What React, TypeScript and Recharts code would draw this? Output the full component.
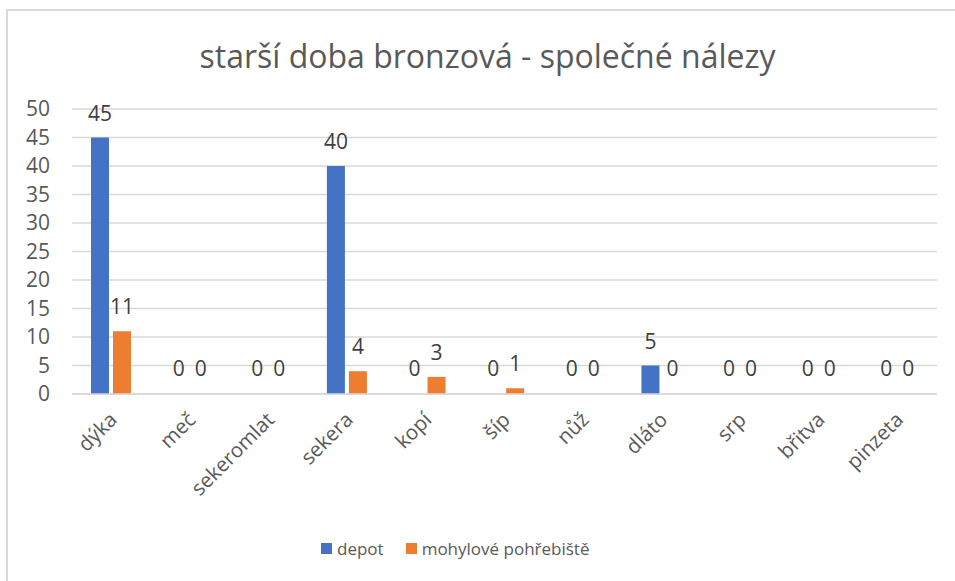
import { Bar, BarChart, CartesianGrid, LabelList, Legend, Rectangle, XAxis, YAxis } from "recharts";

const categories = ["dýka", "meč", "sekeromlat", "sekera", "kopí", "šíp", "nůž", "dláto", "srp", "břitva", "pinzeta"];
const depot = [45, 0, 0, 40, 0, 0, 0, 5, 0, 0, 0];
const burials = [11, 0, 0, 4, 3, 1, 0, 0, 0, 0, 0];
const yTicks = [0, 5, 10, 15, 20, 25, 30, 35, 40, 45, 50];

const data = categories.map((name, i) => ({ name, depot: depot[i], burials: burials[i] }));

const FONT = "'Open Sans', sans-serif";
const TEXT = "#595959";

function CategoryTick({ x, y, payload }: any) {
  const px = x + 7;
  const py = y + 27;
  return (
    <text
      x={px}
      y={py}
      transform={`rotate(-45, ${px}, ${py})`}
      textAnchor="end"
      fill={TEXT}
      fontSize={20.5}
      fontFamily={FONT}
    >
      {payload.value}
    </text>
  );
}

// zero values keep their label but draw no visible bar
const makeShape = (key: string) => (props: any) =>
  props.payload && props.payload[key] === 0 ? <g /> : <Rectangle {...props} />;

function LegendContent({ payload }: any) {
  return (
    <div style={{ display: "flex", alignItems: "center", height: 24, fontFamily: FONT, fontSize: 17, color: TEXT }}>
      {(payload || []).map((p: any, i: number) => (
        <div key={i} style={{ display: "flex", alignItems: "center", marginRight: 22 }}>
          <span style={{ width: 11, height: 11, background: p.color, marginRight: 5, display: "inline-block" }} />
          <span>{p.value}</span>
        </div>
      ))}
    </div>
  );
}

export default function App() {
  return (
    <div style={{ position: "absolute", left: 0, top: 0, width: 955, height: 581, background: "#fff", overflow: "hidden" }}>
      <div
        style={{
          position: "absolute",
          left: 6,
          top: 9,
          width: 960,
          height: 600,
          borderLeft: "2px solid #d9d9d9",
          borderTop: "2px solid #d9d9d9",
        }}
      />
      <div
        style={{
          position: "absolute",
          left: 10,
          top: 36,
          width: 955,
          textAlign: "center",
          fontFamily: FONT,
          fontSize: 32,
          color: TEXT,
          lineHeight: "40px",
        }}
      >
        starší doba bronzová - společné nálezy
      </div>
      <div style={{ position: "absolute", left: 0, top: 0 }}>
        <BarChart
          width={955}
          height={581}
          data={data}
          margin={{ top: 109, right: 18, left: 12, bottom: 33 }}
          barSize={18}
          barGap={4}
        >
          <CartesianGrid stroke="#d9d9d9" strokeWidth={1.5} vertical={false} />
          <XAxis
            dataKey="name"
            height={130}
            tickSize={0}
            tickMargin={0}
            axisLine={{ stroke: "#d9d9d9", strokeWidth: 1.5 }}
            tickLine={false}
            interval={0}
            tick={<CategoryTick />}
          />
          <YAxis
            width={60}
            domain={[0, 50]}
            ticks={yTicks}
            interval={0}
            tickSize={0}
            tickMargin={22}
            axisLine={false}
            tickLine={false}
            tick={{ fill: TEXT, fontSize: 21, fontFamily: FONT }}
          />
          <Legend
            content={<LegendContent />}
            verticalAlign="bottom"
            wrapperStyle={{ left: 321, top: 536, bottom: "auto", width: "auto" }}
          />
          <Bar
            dataKey="depot"
            name="depot"
            fill="#4472c4"
            minPointSize={1}
            shape={makeShape("depot")}
            isAnimationActive={false}
          >
            <LabelList dataKey="depot" position="top" offset={17} fill="#404040" fontSize={21} fontFamily={FONT} />
          </Bar>
          <Bar
            dataKey="burials"
            name="mohylové pohřebiště"
            fill="#ed7d31"
            minPointSize={1}
            shape={makeShape("burials")}
            isAnimationActive={false}
          >
            <LabelList dataKey="burials" position="top" offset={17} fill="#404040" fontSize={21} fontFamily={FONT} />
          </Bar>
        </BarChart>
      </div>
    </div>
  );
}
